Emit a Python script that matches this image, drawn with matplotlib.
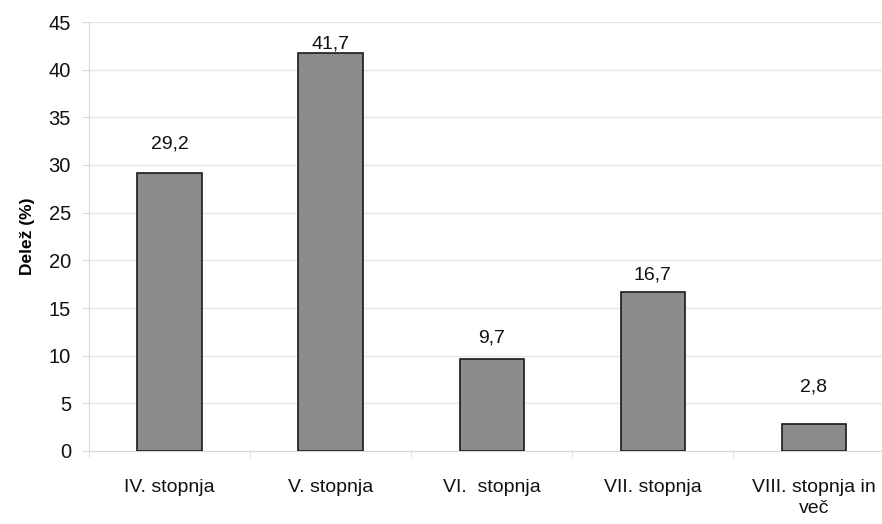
import matplotlib
matplotlib.use("Agg")
import matplotlib.pyplot as plt
import numpy as np

categories = ["IV. stopnja", "V. stopnja", "VI.  stopnja", "VII. stopnja", "VIII. stopnja in\nveč"]
values = [29.2, 41.7, 9.7, 16.7, 2.8]
value_labels = ["29,2", "41,7", "9,7", "16,7", "2,8"]
label_offsets_px = [20, 1, 12, 8, 29]  # Excel-style label placement above bars

plt.rcParams["font.family"] = ["Liberation Sans", "DejaVu Sans"]

fig = plt.figure(figsize=(8.82, 5.24), dpi=100)
ax = fig.add_axes([89 / 882, 73 / 524, 805.5 / 882, 429 / 524])

x = np.arange(len(categories))
ax.bar(x, values, width=0.4, color="#8c8c8c", edgecolor="#1a1a1a", linewidth=1.2, zorder=3)

for xi, v, lab, off in zip(x, values, value_labels, label_offsets_px):
    ax.annotate(lab, (xi, v), xytext=(0, off * 0.72), textcoords="offset points",
                ha="center", va="bottom", fontsize=14, color="#111111")

ax.set_xlim(-0.5, len(categories) - 0.5)
ax.set_ylim(0, 45)
ax.set_yticks(np.arange(0, 46, 5))
ax.yaxis.grid(True, color="#e6e6e6", linewidth=1, zorder=0)
ax.set_axisbelow(True)

ax.set_xticks(x)
ax.set_xticklabels(categories, fontsize=14, color="#111111", linespacing=1.35)
ax.set_xticks(np.arange(-0.5, len(categories), 1), minor=True)
ax.tick_params(axis="x", which="major", length=0, pad=20)
ax.tick_params(axis="x", which="minor", length=5, color="#d9d9d9")
ax.tick_params(axis="y", length=5, color="#d9d9d9", labelsize=14.5, pad=8, labelcolor="#111111")

for s in ["top", "right"]:
    ax.spines[s].set_visible(False)
ax.spines["left"].set_color("#d9d9d9")
ax.spines["bottom"].set_color("#d9d9d9")

ax.set_ylabel("Delež (%)", fontsize=12.5, fontweight="bold", labelpad=10)

fig.savefig("out.png", dpi=100)
